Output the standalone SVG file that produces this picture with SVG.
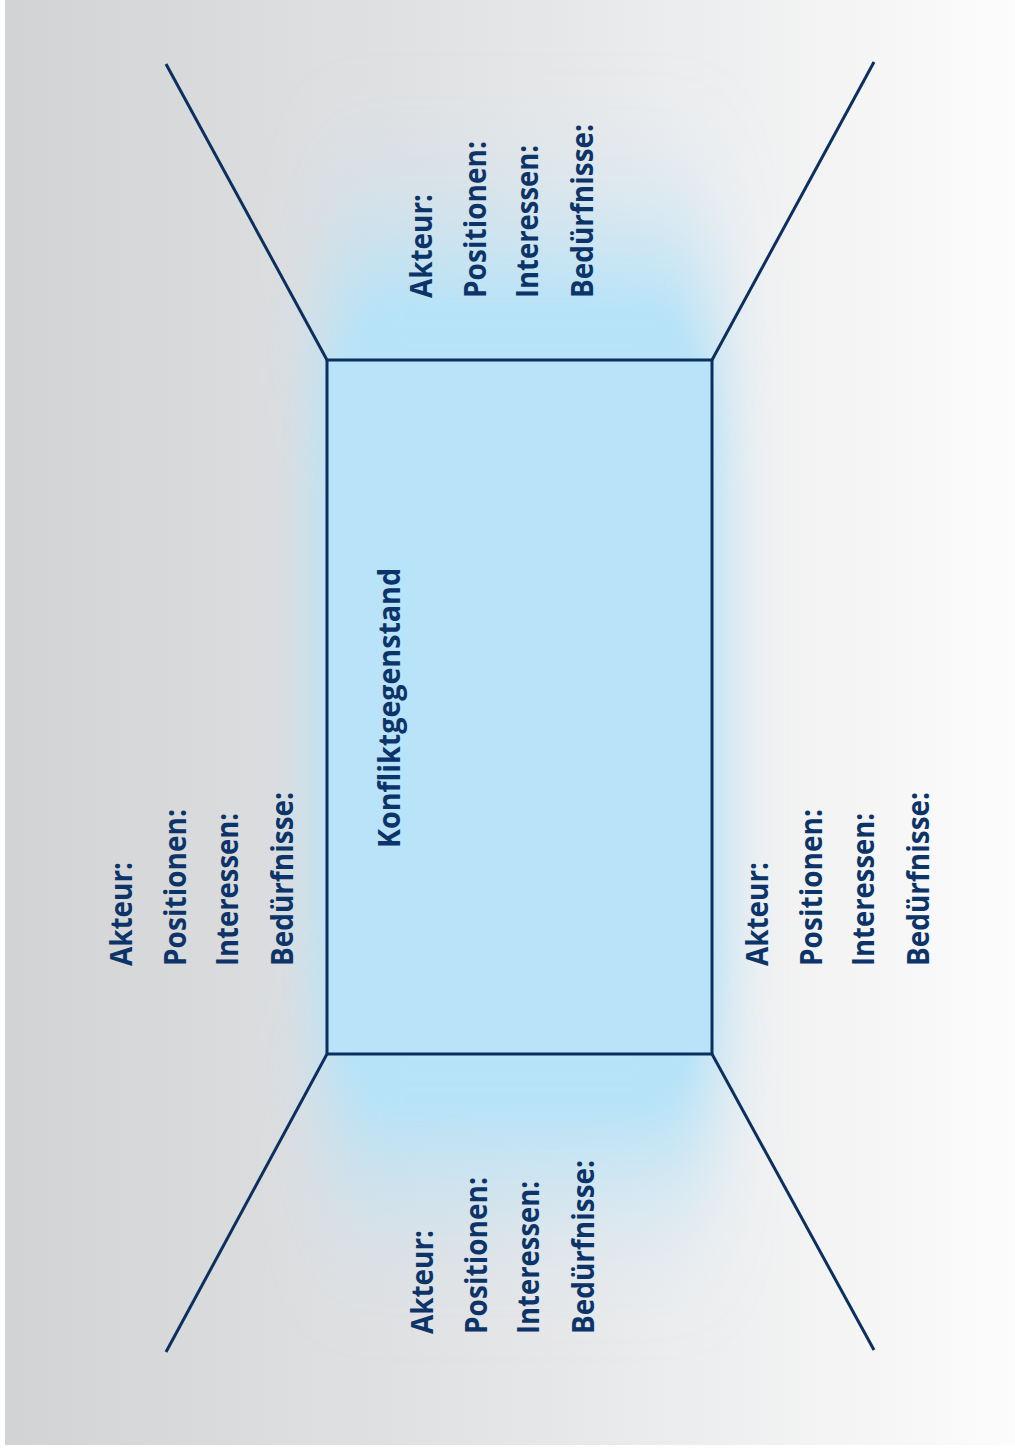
<svg xmlns="http://www.w3.org/2000/svg" width="1015" height="1453" viewBox="0 0 1015 1453">
  <defs>
    <linearGradient id="bg" x1="0" y1="0" x2="1" y2="0">
      <stop offset="0" stop-color="#d2d3d5"/>
      <stop offset="0.5" stop-color="#e4e5e7"/>
      <stop offset="1" stop-color="#fcfcfc"/>
    </linearGradient>
    <filter id="glow" x="-50%" y="-50%" width="200%" height="200%">
      <feGaussianBlur stdDeviation="32 95"/>
      <feComponentTransfer>
        <feFuncA type="linear" slope="1.6"/>
      </feComponentTransfer>
    </filter>
    <style>
      .ln { stroke: #0b2f5f; stroke-width: 3; fill: none; stroke-linecap: butt; }
      .box { fill: #b8e3f8; stroke: #0b2f5f; stroke-width: 3; }
      .t { font-family: "Open Sans", "Liberation Sans", sans-serif; font-weight: 700; font-size: 30px; fill: #0c3468; }
    </style>
  </defs>
  <rect x="0" y="0" width="1015" height="1453" fill="#ffffff"/>
  <rect x="5" y="0" width="1010" height="1445" fill="url(#bg)"/>
  <rect x="327" y="280" width="385" height="854" fill="#b8e3f8" filter="url(#glow)"/>

  <g id="connectors">
    <line class="ln" x1="327" y1="360" x2="166" y2="64"/>
    <line class="ln" x1="712" y1="360" x2="874" y2="62"/>
    <line class="ln" x1="327" y1="1054" x2="166" y2="1352"/>
    <line class="ln" x1="712" y1="1054" x2="874" y2="1350"/>
  </g>

  <g id="konfliktgegenstand">
    <rect class="box" x="327" y="360" width="385" height="694"/>
    <text class="t" transform="translate(400,848) rotate(-90)" textLength="280" lengthAdjust="spacingAndGlyphs">Konfliktgegenstand</text>
  </g>

  <g id="akteur-links">
    <text class="t" transform="translate(132,966) rotate(-90)" textLength="104" lengthAdjust="spacingAndGlyphs">Akteur:</text>
    <text class="t" transform="translate(185.5,966) rotate(-90)" textLength="157" lengthAdjust="spacingAndGlyphs">Positionen:</text>
    <text class="t" transform="translate(238,966) rotate(-90)" textLength="153" lengthAdjust="spacingAndGlyphs">Interessen:</text>
    <text class="t" transform="translate(292.5,966) rotate(-90)" textLength="174" lengthAdjust="spacingAndGlyphs">Bedürfnisse:</text>
  </g>

  <g id="akteur-oben">
    <text class="t" transform="translate(432,298) rotate(-90)" textLength="104" lengthAdjust="spacingAndGlyphs">Akteur:</text>
    <text class="t" transform="translate(485.5,298) rotate(-90)" textLength="157" lengthAdjust="spacingAndGlyphs">Positionen:</text>
    <text class="t" transform="translate(538,298) rotate(-90)" textLength="153" lengthAdjust="spacingAndGlyphs">Interessen:</text>
    <text class="t" transform="translate(592.5,298) rotate(-90)" textLength="174" lengthAdjust="spacingAndGlyphs">Bedürfnisse:</text>
  </g>

  <g id="akteur-unten">
    <text class="t" transform="translate(433,1334) rotate(-90)" textLength="104" lengthAdjust="spacingAndGlyphs">Akteur:</text>
    <text class="t" transform="translate(486.5,1334) rotate(-90)" textLength="157" lengthAdjust="spacingAndGlyphs">Positionen:</text>
    <text class="t" transform="translate(539,1334) rotate(-90)" textLength="153" lengthAdjust="spacingAndGlyphs">Interessen:</text>
    <text class="t" transform="translate(593.5,1334) rotate(-90)" textLength="174" lengthAdjust="spacingAndGlyphs">Bedürfnisse:</text>
  </g>

  <g id="akteur-rechts">
    <text class="t" transform="translate(768,966) rotate(-90)" textLength="104" lengthAdjust="spacingAndGlyphs">Akteur:</text>
    <text class="t" transform="translate(821.5,966) rotate(-90)" textLength="157" lengthAdjust="spacingAndGlyphs">Positionen:</text>
    <text class="t" transform="translate(874,966) rotate(-90)" textLength="153" lengthAdjust="spacingAndGlyphs">Interessen:</text>
    <text class="t" transform="translate(928.5,966) rotate(-90)" textLength="174" lengthAdjust="spacingAndGlyphs">Bedürfnisse:</text>
  </g>
</svg>
